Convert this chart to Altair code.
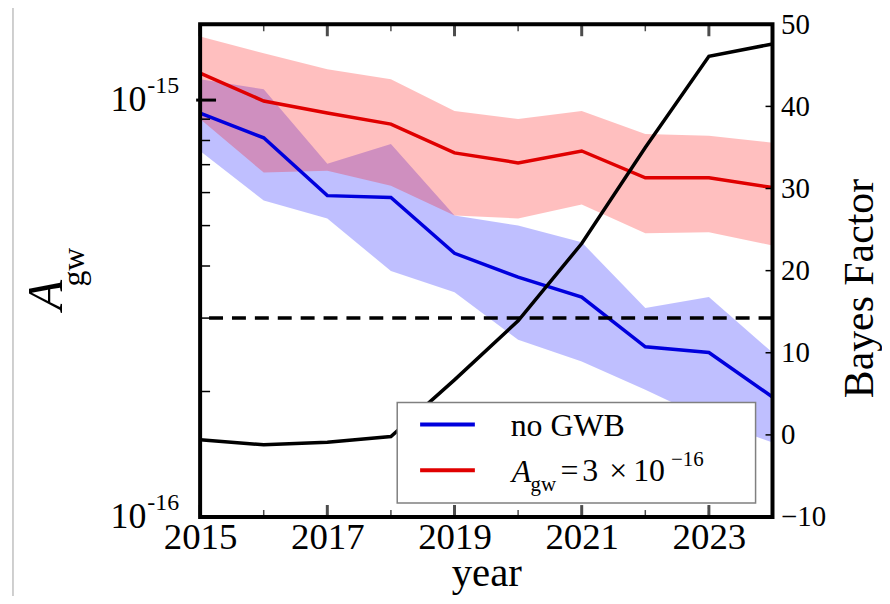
import altair as alt
import pandas as pd

# ---------------- data ----------------
years = [2015, 2016, 2017, 2018, 2019, 2020, 2021, 2022, 2023, 2024]
# A_gw = 3e-16 injected: median and band
gwb_med = [1.16e-15, 9.95e-16, 9.31e-16, 8.76e-16, 7.47e-16, 7.07e-16, 7.55e-16, 6.51e-16, 6.51e-16, 6.17e-16]
gwb_lo = [9.01e-16, 6.70e-16, 6.77e-16, 6.23e-16, 5.29e-16, 5.20e-16, 5.62e-16, 4.79e-16, 4.82e-16, 4.48e-16]
gwb_hi = [1.421e-15, 1.295e-15, 1.186e-15, 1.122e-15, 9.41e-16, 9.01e-16, 9.41e-16, 8.29e-16, 8.21e-16, 7.90e-16]
# no GWB: median and band
nogwb_med = [9.31e-16, 8.12e-16, 5.90e-16, 5.84e-16, 4.29e-16, 3.76e-16, 3.37e-16, 2.56e-16, 2.48e-16, 1.94e-16]
nogwb_lo = [7.55e-16, 5.74e-16, 5.20e-16, 3.89e-16, 3.46e-16, 2.66e-16, 2.36e-16, 2.02e-16, 1.71e-16, 1.51e-16]
nogwb_hi = [1.122e-15, 1.062e-15, 7.04e-16, 7.85e-16, 5.29e-16, 5.00e-16, 4.56e-16, 3.17e-16, 3.37e-16, 2.48e-16]
# Bayes factor (right axis)
bayes = [-0.6, -1.2, -0.9, -0.2, 6.7, 13.9, 23.3, 35.0, 46.1, 47.6]
threshold = [3e-16]

x_major = [2015, 2017, 2019, 2021, 2023]
x_minor = [2016, 2018, 2020, 2022, 2024]
left_major = [1e-15]
left_minor = [2e-16, 3e-16, 4e-16, 5e-16, 6e-16, 7e-16, 8e-16, 9e-16]
left_label_vals = [1e-16, 1e-15]
left_label_base = ["10", "10"]
left_label_exp = ["-16", "-15"]
right_vals = [-10, 0, 10, 20, 30, 40, 50]
right_ticks = [0, 10, 20, 30, 40]

legend_labels = ["no GWB", "A", "gw", "=", "3", "\u00d7", "10", "\u221216"]
axis_title_left = ["A", "gw"]
axis_title_right = "Bayes Factor"
axis_title_x = "year"

# ---------------- layout / style ----------------
W, H = 575, 495
FONT = "Liberation Serif"
BLUE = "#0000dd"
RED = "#e00000"

xs = alt.Scale(domain=[2015, 2024], nice=False, zero=False)


def ls():
    return alt.Scale(type="log", domain=[1e-16, 1.52e-15], nice=False)


def rs():
    return alt.Scale(domain=[-10, 50], nice=False, zero=False)


df = pd.DataFrame({
    "year": years,
    "gwb_med": gwb_med, "gwb_lo": gwb_lo, "gwb_hi": gwb_hi,
    "nogwb_med": nogwb_med, "nogwb_lo": nogwb_lo, "nogwb_hi": nogwb_hi,
    "bayes": bayes,
})

x_axis = alt.Axis(values=x_major, format="d", ticks=False, domain=False, grid=False,
                  labelFont=FONT, labelFontSize=37, labelColor="black", labelPadding=3,
                  labelFlush=False, labelOverlap=False, zindex=1,
                  title=axis_title_x, titleFont=FONT, titleFontSize=41,
                  titleFontWeight="normal", titleColor="black",
                  titleBaseline="alphabetic", titleY=69)
X = alt.X("year:Q", scale=xs, axis=x_axis)
Xn = alt.X("year:Q", scale=xs)


def txt(s, x, y, size, italic=False, angle=0, align="left", baseline="middle"):
    return alt.Chart(pd.DataFrame({"t": [s]})).mark_text(
        font=FONT, fontSize=size, fontStyle="italic" if italic else "normal",
        angle=angle, align=align, baseline=baseline, color="black"
    ).encode(text="t:N", x=alt.value(x), y=alt.value(y))


base = alt.Chart(df)
one = pd.DataFrame({"k": [0]})

# bands and lines on the log axis
blue_band = base.mark_area(color="#0000ff", opacity=0.25).encode(
    x=X, y=alt.Y("nogwb_lo:Q", scale=ls(), axis=None), y2="nogwb_hi:Q")
red_band = base.mark_area(color="#ff0000", opacity=0.25).encode(
    x=Xn, y=alt.Y("gwb_lo:Q", scale=ls(), axis=None), y2="gwb_hi:Q")
blue_line = base.mark_line(color=BLUE, strokeWidth=3.5).encode(
    x=Xn, y=alt.Y("nogwb_med:Q", scale=ls(), axis=None))
red_line = base.mark_line(color=RED, strokeWidth=3.5).encode(
    x=Xn, y=alt.Y("gwb_med:Q", scale=ls(), axis=None))
dash = alt.Chart(pd.DataFrame({"a": threshold})).mark_rule(
    color="black", strokeWidth=3.5, strokeDash=[14, 9]).encode(
    y=alt.Y("a:Q", scale=ls(), axis=None))

# Bayes factor on the right axis
r_axis = alt.Axis(orient="right", values=right_vals, ticks=False, domain=False, grid=False,
                  labelFont=FONT, labelFontSize=29, labelColor="black", labelPadding=8,
                  labelOverlap=False,
                  title=axis_title_right, titleFont=FONT, titleFontSize=42,
                  titleFontWeight="normal", titleColor="black", titleAngle=270,
                  titleX=87, titleY=265, titleAlign="center", titleBaseline="middle")
bf_line = base.mark_line(color="black", strokeWidth=3.5).encode(
    x=Xn, y=alt.Y("bayes:Q", scale=rs(), axis=r_axis))

# ticks (inward)
lt_minor = alt.Chart(pd.DataFrame({"v": left_minor})).mark_rule(
    color="black", strokeWidth=1.5).encode(
    y=alt.Y("v:Q", scale=ls(), axis=None), x=alt.value(0), x2=alt.value(10))
lt_major = alt.Chart(pd.DataFrame({"v": left_major})).mark_rule(
    color="black", strokeWidth=3).encode(
    y=alt.Y("v:Q", scale=ls(), axis=None), x=alt.value(-4), x2=alt.value(16))
rt = alt.Chart(pd.DataFrame({"b": right_ticks})).mark_rule(
    color="black", strokeWidth=1.5).encode(
    y=alt.Y("b:Q", scale=rs(), axis=None), x=alt.value(W - 7), x2=alt.value(W))
xb_major = alt.Chart(pd.DataFrame({"year": x_major})).mark_tick(
    color="black", thickness=3, size=12, orient="vertical").encode(
    x=Xn, y=alt.value(H - 6))
xb_minor = alt.Chart(pd.DataFrame({"year": x_minor})).mark_tick(
    color="black", thickness=1.5, size=7, orient="vertical").encode(
    x=Xn, y=alt.value(H - 3.5))
xt_major = alt.Chart(pd.DataFrame({"year": x_major})).mark_tick(
    color="black", thickness=3, size=12, orient="vertical", yOffset=6).encode(
    x=Xn, y=alt.value(0))
xt_minor = alt.Chart(pd.DataFrame({"year": x_minor})).mark_tick(
    color="black", thickness=1.5, size=7, orient="vertical", yOffset=3.5).encode(
    x=Xn, y=alt.value(0))

# left axis labels 10^-16, 10^-15
lab = alt.Chart(pd.DataFrame({"v": left_label_vals, "b": left_label_base, "e": left_label_exp}))
lab_base = lab.mark_text(font=FONT, fontSize=36, align="right", baseline="middle",
                         color="black").encode(
    y=alt.Y("v:Q", scale=ls(), axis=None), x=alt.value(-54), text="b:N")
lab_exp = lab.mark_text(font=FONT, fontSize=24, align="left", baseline="middle",
                        dy=-14, color="black").encode(
    y=alt.Y("v:Q", scale=ls(), axis=None), x=alt.value(-53), text="e:N")

title_A = txt(axis_title_left[0], -154, 272, 50, italic=True, angle=270, align="center")
title_gw = txt(axis_title_left[1], -127, 244, 32, angle=270, align="center")

frame = alt.Chart(one).mark_rect(filled=False, stroke="black", strokeWidth=4).encode(
    x=alt.value(0), x2=alt.value(W), y=alt.value(0), y2=alt.value(H))
edge = alt.Chart(one).mark_rule(color="#c0c0c0", strokeWidth=1.5).encode(
    x=alt.value(-188), y=alt.value(-23), y2=alt.value(590))

# legend
leg_box = alt.Chart(one).mark_rect(fill="white", stroke="#808080", strokeWidth=1.5).encode(
    x=alt.value(198), x2=alt.value(558), y=alt.value(380), y2=alt.value(481))
leg_blue = alt.Chart(one).mark_rule(color=BLUE, strokeWidth=4).encode(
    x=alt.value(221), x2=alt.value(276), y=alt.value(402))
leg_red = alt.Chart(one).mark_rule(color=RED, strokeWidth=4).encode(
    x=alt.value(221), x2=alt.value(276), y=alt.value(448))
leg_t1 = txt(legend_labels[0], 312, 404, 32)
leg_A = txt(legend_labels[1], 313, 450, 32, italic=True)
leg_gw = txt(legend_labels[2], 332, 463, 21)
leg_eq = txt(legend_labels[3], 362, 449, 32)
leg_3 = txt(legend_labels[4], 384, 449, 32)
leg_x = txt(legend_labels[5], 411, 449, 32)
leg_10 = txt(legend_labels[6], 435, 449, 32)
leg_exp = txt(legend_labels[7], 473, 438, 21)

chart = alt.layer(
    blue_band, red_band, blue_line, red_line, dash, bf_line,
    lt_minor, lt_major, rt, xb_major, xb_minor, xt_major, xt_minor,
    frame, lab_base, lab_exp, title_A, title_gw, edge,
    leg_box, leg_blue, leg_red, leg_t1, leg_A, leg_gw,
    leg_eq, leg_3, leg_x, leg_10, leg_exp,
).resolve_scale(y="independent").properties(
    width=W, height=H,
    padding={"left": 193, "top": 15, "right": 110, "bottom": 78},
    autosize=alt.AutoSizeParams(type="none"),
    background="white",
).configure_view(stroke=None)

chart.save("out.html", embed_options={"renderer": "svg", "actions": False})
